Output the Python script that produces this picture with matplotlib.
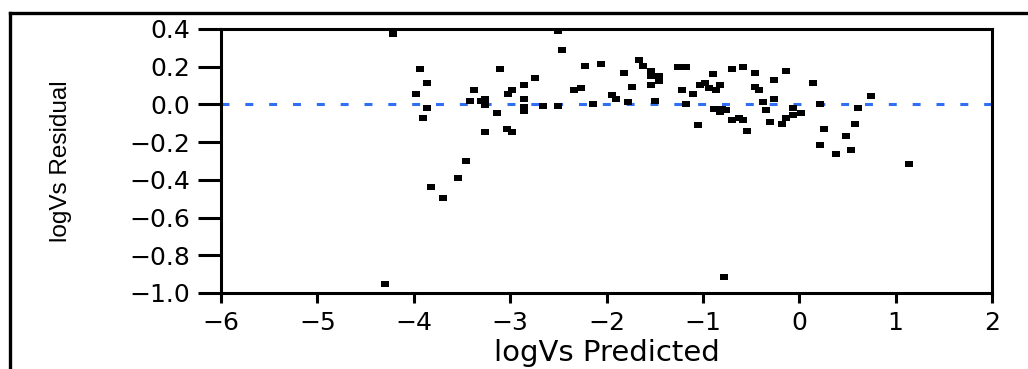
import matplotlib
matplotlib.use('Agg')
import matplotlib.pyplot as plt
from matplotlib.lines import Line2D

# residuals vs predicted
pred = [-4.22, -3.94, -3.86, -3.98, -3.86, -3.90, -3.46, -3.38, -3.42, -3.30,
        -3.26, -3.26, -3.14, -3.26, -3.03, -2.98, -3.10, -2.98, -3.02, -2.86,
        -2.74, -2.86, -2.86, -2.86, -2.66, -2.50, -2.46, -2.50, -2.22, -2.06,
        -2.34, -2.26, -2.14, -1.82, -1.74, -1.94, -1.90, -1.78, -1.66, -1.62,
        -1.54, -1.54, -1.46, -1.46, -1.54, -1.50, -1.26, -1.18, -1.22, -1.10,
        -1.18, -1.03, -1.05, -0.90, -0.98, -0.94, -0.86, -0.82, -0.88, -0.82,
        -0.76, -0.80, -0.70, -0.58, -0.46, -0.46, -0.42, -0.26, -0.14, -0.38,
        -0.34, -0.26, -0.70, -0.62, -0.58, -0.54, -0.30, -0.18, -0.14, -0.06,
        -0.06, 0.02, 0.14, 0.22, 0.26, 0.22, 0.38, 0.49, 0.54, 0.58,
        0.61, 0.74, 1.14, -3.54, -3.82, -3.70, -4.30, -0.78]
resid = [0.373, 0.188, 0.114, 0.057, -0.017, -0.074, -0.298, 0.077, 0.020, 0.020,
         0.030, -0.001, -0.046, -0.148, -0.129, -0.148, 0.188, 0.077, 0.057, 0.103,
         0.140, 0.029, -0.014, -0.037, -0.008, 0.387, 0.290, -0.008, 0.205, 0.216,
         0.077, 0.085, 0.002, 0.168, 0.094, 0.048, 0.029, 0.011, 0.234, 0.205,
         0.177, 0.149, 0.149, 0.122, 0.103, 0.020, 0.197, 0.197, 0.077, 0.057,
         0.002, 0.103, -0.110, 0.159, 0.114, 0.085, 0.077, 0.103, -0.025, -0.040,
         -0.030, -0.025, 0.188, 0.197, 0.168, 0.094, 0.075, 0.131, 0.179, 0.011,
         -0.028, 0.029, -0.085, -0.074, -0.085, -0.141, -0.093, -0.102, -0.074, -0.017,
         -0.055, -0.046, 0.114, 0.000, -0.131, -0.214, -0.261, -0.168, -0.244, -0.102,
         -0.017, 0.046, -0.318, -0.392, -0.438, -0.495, -0.954, -0.915]

xticks = [-6, -5, -4, -3, -2, -1, 0, 1, 2]
yticks = [0.4, 0.2, 0.0, -0.2, -0.4, -0.6, -0.8, -1.0]

fig = plt.figure(figsize=(10.28, 3.69), dpi=100)
ax = fig.add_axes([221/1028, 76/369, 771/1028, 264/369])

# outer frame (top and left edges only)
fig.add_artist(Line2D([9.5/1028, 9.5/1028], [0, 1 - 12.5/369], transform=fig.transFigure,
                      color='black', lw=2.4, solid_capstyle='projecting'))
fig.add_artist(Line2D([9.5/1028, 1], [1 - 12.5/369, 1 - 12.5/369], transform=fig.transFigure,
                      color='black', lw=2.4, solid_capstyle='projecting'))

ax.axhline(0, color='#2f6ff2', lw=2.2, dashes=(2.6, 5.2), zorder=1)

rect = [(-1, -0.68), (1, -0.68), (1, 0.68), (-1, 0.68), (-1, -0.68)]
ax.plot(pred, resid, ls='none', marker=rect, markersize=5.6, color='black',
        markeredgewidth=0, zorder=3)

ax.set_xlim(-6, 2)
ax.set_ylim(-1.0, 0.4)
ax.set_xticks(xticks)
ax.set_yticks(yticks)
ax.set_yticklabels([('%.1f' % v).replace('-', '\u2212') for v in yticks])

for s in ax.spines.values():
    s.set_linewidth(2.2)
ax.tick_params(axis='y', length=16.5, width=2.2, pad=6, labelsize=18)
ax.tick_params(axis='x', length=7, width=2.2, pad=6, labelsize=18)
for lab in ax.get_xticklabels() + ax.get_yticklabels():
    lab.set_family('DejaVu Sans')

ax.set_xlabel('logVs Predicted', fontsize=21, family='DejaVu Sans')
ax.xaxis.set_label_coords(0.5, -0.175)
ax.set_ylabel('logVs Residual', fontsize=17.5, family='Liberation Sans')
ax.yaxis.label.set_va('center')
ax.yaxis.set_label_coords((61.5 - 221) / 771, 0.5)

fig.savefig('out.png', dpi=100)
